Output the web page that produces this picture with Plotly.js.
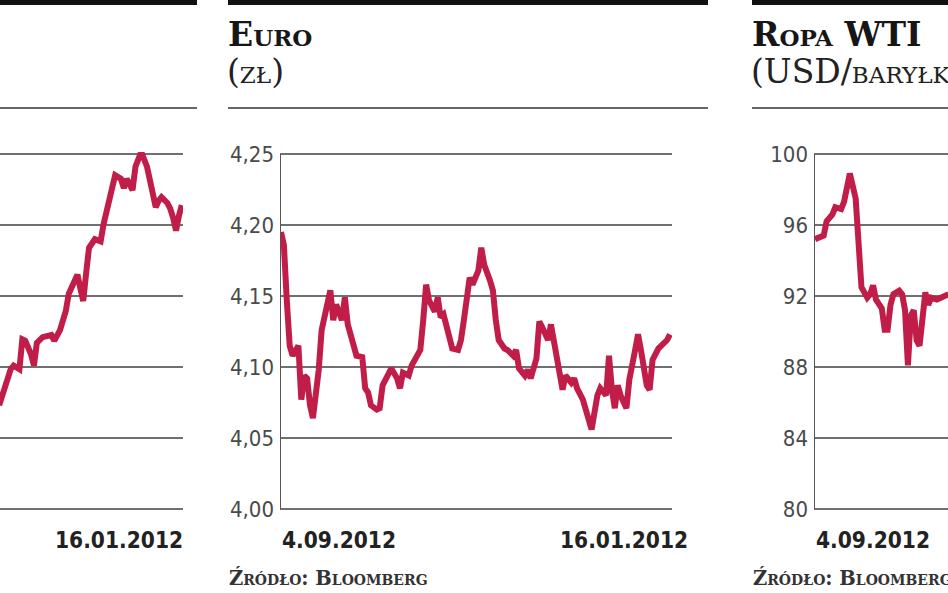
<!DOCTYPE html>
<html>
<head>
<meta charset="utf-8">
<script src="https://cdn.plot.ly/plotly-3.0.1.min.js"></script>
<style>
  html, body { margin: 0; padding: 0; background: #ffffff; }
  #chart { width: 948px; height: 593px; }
</style>
</head>
<body>
<div id="chart"></div>
<script>
// ---------- DATA ----------
// day offsets counted from 4.09 on each panel's time axis
const leftPanelDays = [71,73,75,76,78,79,80,82,83,84,86,89,90,92,94,95,98,99,100,101,102,104,106,107,109,111,113,114,115,117,118,120,122,124,125,126,127,129,130,131,132,133,134];
const leftPanelValues = [2246,2273,2297,2302,2297,2339,2337,2318,2302,2334,2342,2345,2337,2352,2379,2403,2430,2411,2393,2432,2468,2480,2477,2501,2539,2570,2565,2552,2565,2549,2582,2603,2582,2544,2525,2534,2539,2531,2523,2510,2492,2513,2528];

const euroDays = [0,1,2,3,4,6,7,8,9,10,11,13,14,16,17,18,19,21,22,23,25,26,28,29,30,31,33,34,35,37,38,40,41,42,44,45,47,48,49,50,51,53,54,55,56,58,59,61,62,63,65,66,68,69,70,72,73,74,75,77,78,80,81,82,84,85,86,88,89,90,92,93,94,96,97,98,100,101,102,104,105,106,107,109,110,112,113,114,115,116,117,119,120,122,123,124,126,127,128,130,131,133,134];
const euroValues = [4.195,4.186,4.147,4.115,4.108,4.115,4.077,4.094,4.092,4.073,
  4.064,4.098,4.126,4.147,4.154,4.133,4.144,4.133,4.149,4.130,
  4.115,4.108,4.107,4.085,4.082,4.073,4.070,4.071,4.087,4.094,
  4.099,4.092,4.085,4.096,4.094,4.101,4.108,4.112,4.133,4.158,
  4.147,4.139,4.149,4.135,4.137,4.123,4.113,4.112,4.119,4.133,
  4.163,4.158,4.168,4.184,4.172,4.161,4.154,4.133,4.119,4.113,
  4.112,4.108,4.112,4.099,4.094,4.098,4.092,4.106,4.132,4.128,
  4.119,4.130,4.119,4.096,4.084,4.094,4.089,4.092,4.085,4.077,
  4.071,4.063,4.056,4.080,4.085,4.080,4.108,4.084,4.071,4.087,
  4.080,4.071,4.091,4.112,4.123,4.112,4.087,4.084,4.105,4.113,
  4.115,4.119,4.123];

const oilDays = [0,2,3,4,6,7,9,10,11,12,14,15,16,18,19,20,21,23,24,25,26,27,29,30,31,32,33,34,35,36,38,39,40,42,43,44,46];
const oilValues = [95.2,95.3,95.4,96.2,96.6,97.0,96.9,97.3,98.3,98.9,97.5,95.5,92.5,91.9,92.1,92.6,91.8,91.3,90.1,90.1,91.5,92.1,92.3,92.1,91.2,88.1,90.9,91.2,89.5,89.2,92.2,91.5,91.9,91.8,91.9,92.0,92.1];

const firstDateLabel = "4.09.2012";
const lastDateLabel = "16.01.2012";
const euroTitle = "Euro";
const euroUnit = "(zł)";
const oilTitle = "Ropa WTI";
const oilUnit = "(USD/baryłkę)";
const sourceText = "Źródło: Bloomberg";

// ---------- STYLE / LAYOUT ----------
const W = 948, H = 593;
const px = v => v / W;
const py = v => 1 - v / H;
const lineColor = "#c01e48";
const gridColor = "#707070";
const tickFamily = "'DejaVu Sans Condensed', 'Liberation Sans Narrow', 'Roboto Condensed', 'DejaVu Sans', sans-serif";
const serifFamily = "'DejaVu Serif', 'Liberation Serif', serif";
// plot area spans 152..511 px so that the edge gridlines (154 and 509) are drawn inside it
const yDom = [py(511), py(152)];

function lineTrace(x, y, xa, ya) {
  return { x: x, y: y, xaxis: xa, yaxis: ya, type: "scatter", mode: "lines",
    line: { color: lineColor, width: 6, shape: "linear" }, hoverinfo: "skip" };
}

const data = [
  lineTrace(leftPanelDays, leftPanelValues, "x", "y"),
  lineTrace(euroDays, euroValues, "x2", "y2"),
  lineTrace(oilDays, oilValues, "x3", "y3")
];

const baseX = { showgrid: false, zeroline: false, showticklabels: false, ticks: "", showline: false, fixedrange: true };
const baseY = { showgrid: true, gridcolor: gridColor, gridwidth: 1.6, zeroline: false, ticks: "",
  fixedrange: true, tickfont: { family: tickFamily, size: 22, color: "#4a4a4a" }, ticklabelstandoff: 5 };

const layout = {
  width: W, height: H,
  margin: { l: 0, r: 0, t: 0, b: 0, pad: 0 },
  paper_bgcolor: "#ffffff", plot_bgcolor: "rgba(0,0,0,0)",
  showlegend: false,
  separators: ",.",
  xaxis: Object.assign({}, baseX, { domain: [0, px(183)], range: [71.3, 134.4], anchor: "y" }),
  yaxis: Object.assign({}, baseY, { domain: yDom, range: [2097.2, 2602.8], tick0: 2100, dtick: 100,
    showticklabels: false, anchor: "x" }),
  xaxis2: Object.assign({}, baseX, { domain: [px(280), px(672)], range: [-0.34, 134.7], anchor: "y2" }),
  yaxis2: Object.assign({}, baseY, { domain: yDom, range: [3.9986, 4.2514], tick0: 4.0, dtick: 0.05,
    tickformat: ".2f", anchor: "x2" }),
  xaxis3: Object.assign({}, baseX, { domain: [px(814), 1], range: [-0.34, 45.8], anchor: "y3" }),
  yaxis3: Object.assign({}, baseY, { domain: yDom, range: [79.887, 100.113], tick0: 80, dtick: 4,
    anchor: "x3" }),
  shapes: [
    // top black bars
    { type: "rect", xref: "paper", yref: "paper", x0: 0, x1: px(197), y0: py(0), y1: py(5), fillcolor: "#111", line: { width: 0 } },
    { type: "rect", xref: "paper", yref: "paper", x0: px(228), x1: px(708), y0: py(0), y1: py(5), fillcolor: "#111", line: { width: 0 } },
    { type: "rect", xref: "paper", yref: "paper", x0: px(752), x1: 1, y0: py(0), y1: py(5), fillcolor: "#111", line: { width: 0 } },
    // header separators
    { type: "line", xref: "paper", yref: "paper", x0: 0, x1: px(197), y0: py(108), y1: py(108), line: { color: "#666", width: 2 } },
    { type: "line", xref: "paper", yref: "paper", x0: px(228), x1: px(708), y0: py(108), y1: py(108), line: { color: "#666", width: 2 } },
    { type: "line", xref: "paper", yref: "paper", x0: px(752), x1: 1, y0: py(108), y1: py(108), line: { color: "#666", width: 2 } },
    // vertical value axes (euro, oil) from the 4,00 / 80 gridline to the top gridline
    { type: "line", xref: "x2", yref: "y2", x0: -0.34, x1: -0.34, y0: 4.0, y1: 4.25, line: { color: "#555", width: 2 } },
    { type: "line", xref: "x3", yref: "y3", x0: -0.34, x1: -0.34, y0: 80, y1: 100, line: { color: "#555", width: 2 } }
  ],
  annotations: []
};

const dateFont = { family: tickFamily, size: 22.5, color: "#222", weight: 700 };
function dateLabel(text, xref, x, anchor, shift) {
  return { text: text, xref: xref, x: x, xanchor: anchor, xshift: shift, yref: "paper", y: py(540),
    yanchor: "middle", showarrow: false, font: dateFont };
}
layout.annotations.push(dateLabel(lastDateLabel, "x", 134, "right", 3));
layout.annotations.push(dateLabel(firstDateLabel, "x2", 0, "left", -1));
layout.annotations.push(dateLabel(lastDateLabel, "x2", 134, "right", 20));
layout.annotations.push(dateLabel(firstDateLabel, "x3", 0, "left", -1));

function textAt(text, x, y, font) {
  return { text: text, xref: "paper", yref: "paper", x: px(x), y: py(y), xanchor: "left", yanchor: "middle",
    showarrow: false, font: font };
}
const titleFont = { family: serifFamily, size: 33, color: "#161616", weight: 700, variant: "small-caps" };
const unitFont = { family: serifFamily, size: 33, color: "#222", weight: 400, variant: "small-caps" };
const srcFont = { family: serifFamily, size: 19.5, color: "#333", weight: 700, variant: "small-caps" };
layout.annotations.push(textAt(euroTitle, 226, 35, titleFont));
layout.annotations.push(textAt(euroUnit, 225, 72, unitFont));
layout.annotations.push(textAt(oilTitle, 750, 35, titleFont));
layout.annotations.push(textAt(oilUnit, 749, 72, unitFont));
layout.annotations.push(textAt(sourceText, 227, 578, srcFont));
layout.annotations.push(textAt(sourceText, 751, 578, srcFont));

Plotly.newPlot("chart", data, layout, { staticPlot: true, displayModeBar: false });
</script>
</body>
</html>
